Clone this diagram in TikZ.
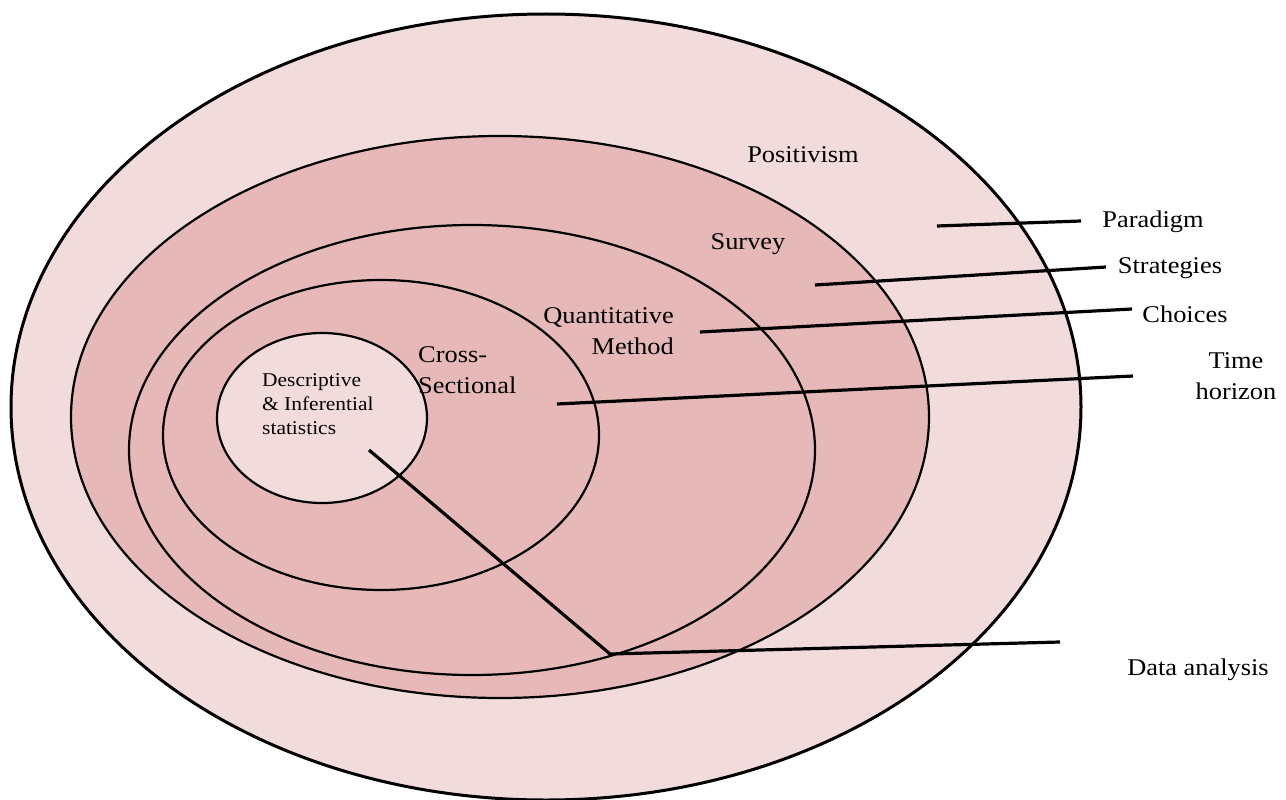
\documentclass[tikz,border=0pt]{standalone}
\usepackage{fontspec}
\setmainfont{Liberation Serif}
\newfontfamily\labelfont[FakeStretch=1.1]{Liberation Serif}
\definecolor{palepink}{HTML}{F2DCDB}
\definecolor{rosepink}{HTML}{E6B9B8}
\begin{document}
\begin{tikzpicture}[x=1pt,y=-1pt,
  ring/.style={draw=black,line width=2.2pt},
  leader/.style={draw=black,line width=3.2pt},
  lab/.style={inner sep=0pt,font=\labelfont\fontsize{24}{31}\selectfont,text=black},
  smalllab/.style={inner sep=0pt,font=\labelfont\fontsize{19.5}{24}\selectfont,text=black}]
\useasboundingbox (0,0) rectangle (1286,800);

% nested layers of the research onion
\fill[palepink] (546,407) ellipse [x radius=535,y radius=393];
\draw[ring,line width=3pt] (546,407) ellipse [x radius=535,y radius=393];
\filldraw[ring,fill=rosepink] (500,417) ellipse [x radius=429,y radius=281];
\filldraw[ring,fill=rosepink] (472,450) ellipse [x radius=343,y radius=225];
\filldraw[ring,fill=rosepink] (381,435) ellipse [x radius=218,y radius=155];
\filldraw[ring,fill=palepink] (322,418) ellipse [x radius=105,y radius=85];

% layer names
\node[lab] (positivism) at (803,155) {Positivism};
\node[lab] (survey) at (748,244) {Survey};
\node[lab,align=right,anchor=north east] (quant) at (674,307) {Quantitative\\Method};
\node[lab,align=left,anchor=north west] (cross) at (418,346) {Cross-\\Sectional};
\node[smalllab,align=left,anchor=north west] (stats) at (262,373) {Descriptive\\\& Inferential\\statistics};

% outside labels
\node[lab] (paradigm) at (1153,222) {Paradigm};
\node[lab] (strategies) at (1170,268) {Strategies};
\node[lab] (choices) at (1185,314) {Choices};
\node[lab,align=center,anchor=north] (time) at (1236,352) {Time\\horizon};
\node[lab] (analysis) at (1198,670) {Data analysis};

% leader line end points
\coordinate (p1) at (937,226);  \coordinate (p2) at (1081,221);
\coordinate (s1) at (815,285);  \coordinate (s2) at (1106,267);
\coordinate (c1) at (700,332);  \coordinate (c2) at (1132,309);
\coordinate (t1) at (557,404);  \coordinate (t2) at (1133,376);
\coordinate (d1) at (369,450);  \coordinate (d2) at (610,654);
\coordinate (d3) at (1060,642);

\draw[leader] (p1) -- (p2);
\draw[leader] (s1) -- (s2);
\draw[leader] (c1) -- (c2);
\draw[leader] (t1) -- (t2);
\draw[leader,line join=miter] (d1) -- (d2) -- (d3);
\end{tikzpicture}
\end{document}
